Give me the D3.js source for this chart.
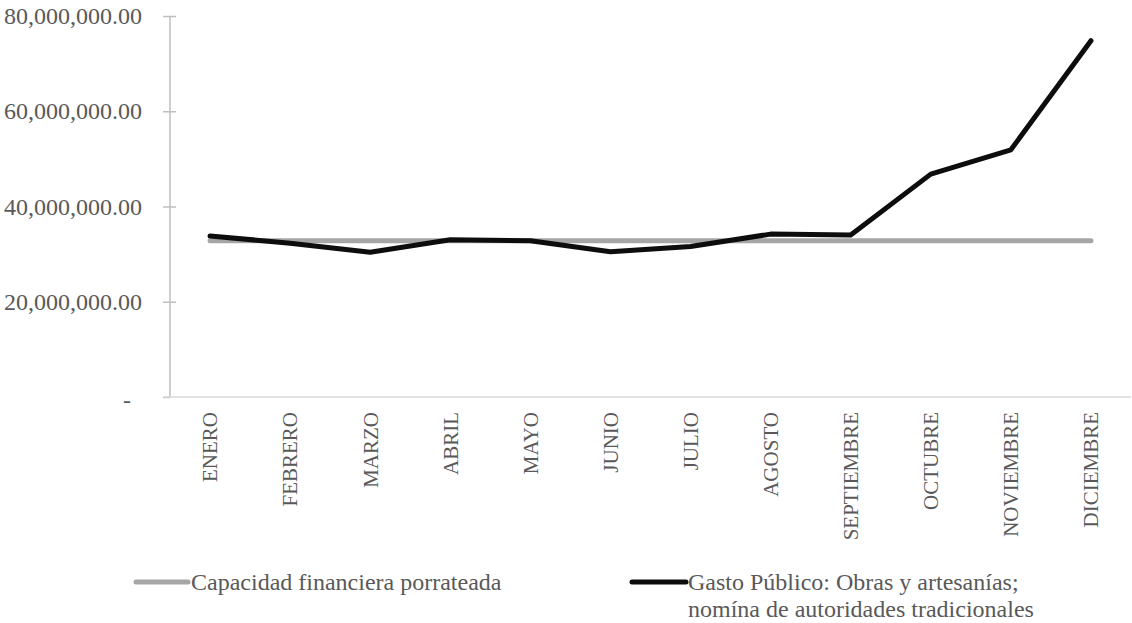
<!DOCTYPE html>
<html><head><meta charset="utf-8">
<script src="https://cdn.jsdelivr.net/npm/d3@7"></script>
<style>body{margin:0;background:#fff}</style>
</head><body><svg id="c" width="1132" height="623"></svg>
<script>
const months = ["ENERO","FEBRERO","MARZO","ABRIL","MAYO","JUNIO","JULIO","AGOSTO","SEPTIEMBRE","OCTUBRE","NOVIEMBRE","DICIEMBRE"];
const capacidad = [32.8e6,32.8e6,32.8e6,32.8e6,32.8e6,32.8e6,32.8e6,32.8e6,32.8e6,32.8e6,32.8e6,32.8e6];
const gasto = [33.8e6,32.3e6,30.4e6,33.0e6,32.8e6,30.5e6,31.6e6,34.2e6,34.0e6,46.8e6,51.9e6,74.8e6];
const yTicks = [0,20e6,40e6,60e6,80e6];
const legendLabels = ["Capacidad financiera porrateada", ["Gasto Público: Obras y artesanías;","nomína de autoridades tradicionales"]];

const FF = '"Liberation Serif"';
const svg = d3.select("#c");
const x = d3.scaleBand().domain(months).range([170,1131]);
const y = d3.scaleLinear().domain([0,80e6]).range([397,16]);
const fmt = d3.format(",.2f");

// y axis
const ya = svg.append("g").attr("transform","translate(170,0)")
  .call(d3.axisLeft(y).tickValues(yTicks).tickSize(7).tickPadding(21)
    .tickFormat(d => d===0 ? "-" : fmt(d)));
ya.attr("font-family",null).attr("font-size",null);
ya.select(".domain").attr("stroke","#bfbfbf").attr("stroke-width",1.5).attr("d","M0,16V397");
ya.selectAll(".tick line").attr("stroke","#bfbfbf").attr("stroke-width",1.5)
  .attr("x1", d => d===0 ? 0 : 6).attr("x2",-7);
ya.selectAll(".tick text").style("font-family",FF).attr("font-size",24).attr("fill","#595959")
  .attr("dy","0.32em");
ya.selectAll(".tick text").filter(d=>d===0).attr("x",-39).attr("dy","0.45em");

// x axis
const xa = svg.append("g").attr("transform","translate(0,397)")
  .call(d3.axisBottom(x).tickSize(0).tickPadding(0));
xa.attr("font-family",null).attr("font-size",null);
xa.select(".domain").attr("stroke","#d9d9d9").attr("stroke-width",1.5).attr("d","M163,0H1131");
xa.selectAll(".tick text").style("font-family",FF).attr("font-size",21).attr("fill","#595959")
  .attr("transform","rotate(-90)").attr("text-anchor","end")
  .attr("x",-15).attr("y",0).attr("dy","0.35em");

const line = d3.line().x((d,i)=>x(months[i])+x.bandwidth()/2).y(d=>y(d));
svg.append("path").datum(capacidad).attr("d",line).attr("fill","none")
  .attr("stroke","#a6a6a6").attr("stroke-width",5).attr("stroke-linecap","round").attr("stroke-linejoin","round");
svg.append("path").datum(gasto).attr("d",line).attr("fill","none")
  .attr("stroke","#0d0d0d").attr("stroke-width",5).attr("stroke-linecap","round").attr("stroke-linejoin","round");

// legend
const lg = svg.append("g");
lg.append("line").attr("x1",136).attr("x2",188).attr("y1",582).attr("y2",582)
  .attr("stroke","#a6a6a6").attr("stroke-width",5).attr("stroke-linecap","round");
lg.append("text").attr("x",191).attr("y",590).style("font-family",FF).attr("font-size",24)
  .attr("fill","#595959").text(legendLabels[0]);
lg.append("line").attr("x1",632).attr("x2",686).attr("y1",582).attr("y2",582)
  .attr("stroke","#0d0d0d").attr("stroke-width",5).attr("stroke-linecap","round");
legendLabels[1].forEach((s,i)=>{
  lg.append("text").attr("x",688).attr("y",590+i*27).style("font-family",FF).attr("font-size",24)
    .attr("fill","#595959").text(s);
});
</script></body></html>
